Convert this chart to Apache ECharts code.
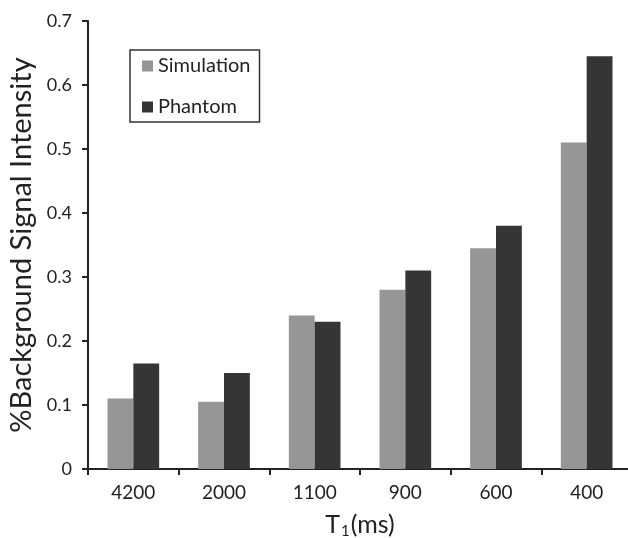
<!DOCTYPE html>
<html><head><meta charset="utf-8">
<script src="https://cdn.jsdelivr.net/npm/echarts@6/dist/echarts.min.js"></script>
<style>html,body{margin:0;padding:0;background:#fff}#c{width:628px;height:538px}</style>
</head><body><div id="c"></div>
<script>
const categories = ['4200', '2000', '1100', '900', '600', '400'];
const simulation = [0.110, 0.105, 0.240, 0.280, 0.345, 0.510];
const phantom = [0.165, 0.150, 0.230, 0.310, 0.380, 0.645];
const yTicks = { min: 0, max: 0.7, interval: 0.1 };

const FONT = 'Lato, "Open Sans", sans-serif';
const chart = echarts.init(document.getElementById('c'), null, { renderer: 'canvas' });
chart.setOption({
  animation: false,
  backgroundColor: '#fff',
  grid: { left: 88, right: -4, top: 21, bottom: 69, containLabel: false, outerBoundsMode: 'none' },
  legend: {
    orient: 'vertical', left: 130, top: 50,
    padding: [6, 9, 5, 12],
    itemGap: 21, itemWidth: 11, itemHeight: 11,
    borderColor: '#333', borderWidth: 1.5,
    textStyle: { fontFamily: FONT, fontSize: 20, color: '#222' },
    icon: 'rect',
    data: ['Simulation', 'Phantom']
  },
  xAxis: {
    type: 'category', data: categories,
    name: '{a|T}{s|1}{a|(ms)}', nameLocation: 'middle', nameGap: 42,
    nameTextStyle: { rich: {
      a: { fontFamily: FONT, fontSize: 25, color: '#222' },
      s: { fontFamily: FONT, fontSize: 15, color: '#222', verticalAlign: 'bottom', padding: [13, 1, 0, 1] }
    } },
    axisLine: { lineStyle: { color: '#222', width: 2 } },
    axisTick: { show: true, length: 6, lineStyle: { color: '#222', width: 2 } },
    axisLabel: { fontFamily: FONT, fontSize: 19, color: '#222', margin: 14 }
  },
  yAxis: {
    type: 'value', min: yTicks.min, max: yTicks.max, interval: yTicks.interval,
    name: '%Background Signal Intensity', nameLocation: 'middle', nameGap: 47,
    nameTextStyle: { fontFamily: FONT, fontSize: 29, color: '#222' },
    axisLine: { show: true, lineStyle: { color: '#222', width: 2 } },
    axisTick: { show: true, length: 6, lineStyle: { color: '#222', width: 2 } },
    splitLine: { show: false },
    axisLabel: { fontFamily: FONT, fontSize: 18, color: '#222', margin: 16,
      formatter: v => (v === 0 ? '0' : v.toFixed(1)) }
  },
  series: [
    { name: 'Simulation', type: 'bar', data: simulation, barGap: '0%', barCategoryGap: '43%',
      itemStyle: { color: '#969696' } },
    { name: 'Phantom', type: 'bar', data: phantom, barGap: '0%', barCategoryGap: '43%',
      itemStyle: { color: '#353535' } }
  ]
});
</script></body></html>
